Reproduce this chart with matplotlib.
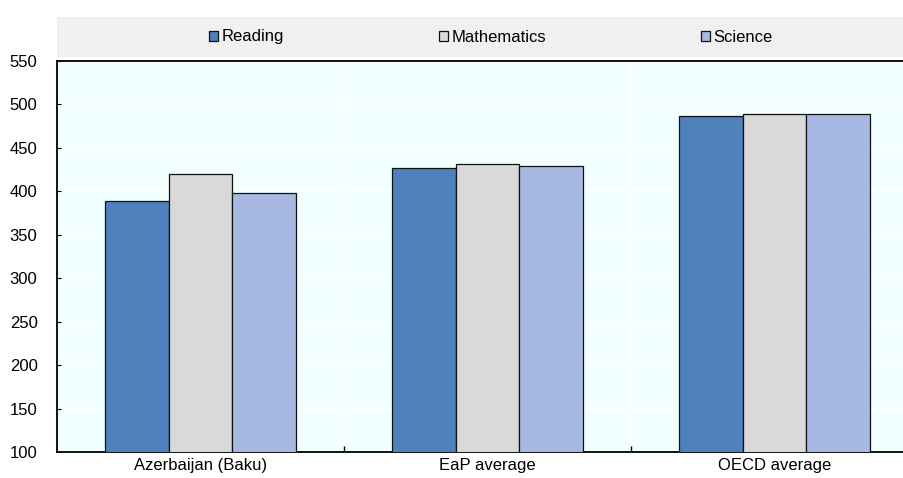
import matplotlib.pyplot as plt
import numpy as np
from matplotlib.patches import Rectangle

plt.rcParams['font.family'] = ['Liberation Sans', 'DejaVu Sans']

categories = ['Azerbaijan (Baku)', 'EaP average', 'OECD average']
series = ['Reading', 'Mathematics', 'Science']
reading = [389, 427, 487]
mathematics = [420, 432, 489]
science = [398, 429, 489]
yticks = [100, 150, 200, 250, 300, 350, 400, 450, 500, 550]

colors = ['#4f81bd', '#d9d9d9', '#a7b9e3']

fig = plt.figure(figsize=(9.04, 4.78), dpi=100)

# grey band behind the legend
fig.patches.append(Rectangle((57 / 904, 1 - 57 / 478), 1, 40 / 478,
                             transform=fig.transFigure, facecolor='#f0f0f0',
                             edgecolor='none', zorder=0))

ax = fig.add_axes([57 / 904, 26 / 478, 861 / 904, 391 / 478])
ax.set_facecolor('#f2ffff')

x = np.arange(len(categories))
w = 0.222
for i, (name, vals) in enumerate(zip(series, [reading, mathematics, science])):
    ax.bar(x + (i - 1) * w, vals, width=w, color=colors[i], edgecolor='#111111',
           linewidth=0.9, label=name, zorder=3)

ax.set_xlim(-0.5, 2.5)
ax.set_ylim(100, 550)
ax.set_yticks(yticks)
ax.set_xticks(x)
ax.set_xticklabels(categories, fontsize=12)
ax.tick_params(axis='x', length=0, pad=4)
ax.tick_params(axis='y', direction='in', length=3, labelsize=12, pad=14)

# separators between categories
ax.set_xticks([0.5, 1.5], minor=True)
ax.tick_params(axis='x', which='minor', direction='in', length=4, width=1)
ax.grid(axis='y', color='white', linewidth=1.2, zorder=1)
for b in [0.5, 1.5]:
    ax.axvline(b, color='white', linewidth=1.2, zorder=1)

for side in ['left', 'bottom', 'top']:
    ax.spines[side].set_linewidth(1.3)
    ax.spines[side].set_color('black')
ax.spines['right'].set_visible(False)

handles, labels = ax.get_legend_handles_labels()
fig.legend(handles, labels, loc='center', bbox_to_anchor=(491 / 904, 1 - 37 / 478),
           ncol=3, frameon=False, fontsize=12, handlelength=0.55, handleheight=0.55,
           handletextpad=0.2, columnspacing=9.3)

fig.savefig('out.png', dpi=100)
